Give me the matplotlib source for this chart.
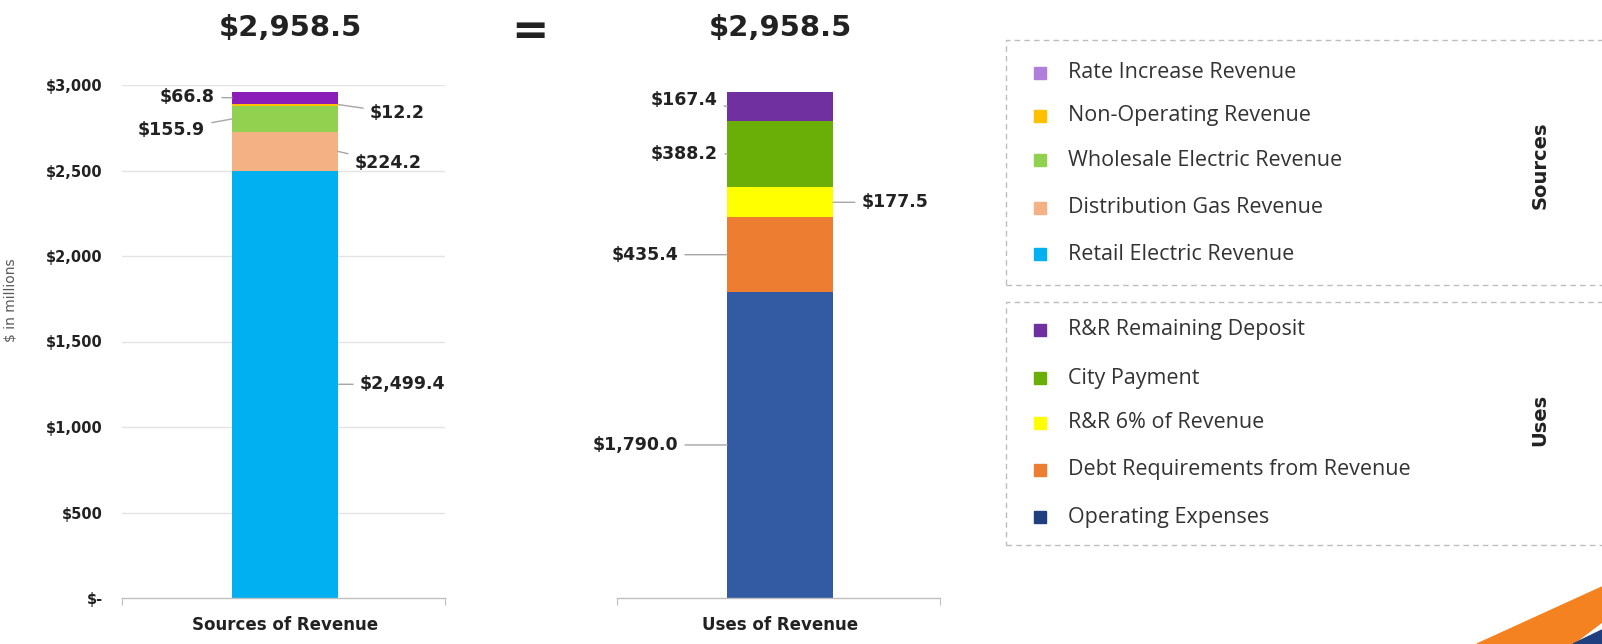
import matplotlib
matplotlib.use('Agg')
import matplotlib.pyplot as plt
from matplotlib.patches import Rectangle, Polygon

# data ($ millions)
src_names = ['Retail Electric Revenue', 'Distribution Gas Revenue', 'Wholesale Electric Revenue',
             'Non-Operating Revenue', 'Rate Increase Revenue']
src_vals = [2499.4, 224.2, 155.9, 12.2, 66.8]
src_colors = ['#00B0F0', '#F4B183', '#92D050', '#FFC000', '#8B1DB8']
src_legend_colors = ['#00B0F0', '#F4B183', '#92D050', '#FFC000', '#B07FDB']

use_names = ['Operating Expenses', 'Debt Requirements from Revenue', 'R&R 6% of Revenue',
             'City Payment', 'R&R Remaining Deposit']
use_vals = [1790.0, 435.4, 177.5, 388.2, 167.4]
use_colors = ['#335BA3', '#ED7D31', '#FFFF00', '#6AAF08', '#7030A0']
use_legend_colors = ['#1F3F7F', '#ED7D31', '#FFFF00', '#6AAF08', '#7030A0']

yticks = [0, 500, 1000, 1500, 2000, 2500, 3000]
ytick_labels = ['$-', '$500', '$1,000', '$1,500', '$2,000', '$2,500', '$3,000']

W, H = 1602, 644
fig = plt.figure(figsize=(W / 100, H / 100), dpi=100)

def fx(px):
    return px / W

def fy(py):
    return 1 - py / H

bar_c, bar_w = 0.505, 0.328

def make_axes(left_px, grid):
    ax = fig.add_axes([fx(left_px), fy(598), 323 / W, 513 / H])
    ax.set_xlim(0, 1)
    ax.set_ylim(0, 3000)
    for sp in ['top', 'right', 'left']:
        ax.spines[sp].set_visible(False)
    ax.spines['bottom'].set_color('#BFBFBF')
    ax.spines['bottom'].set_linewidth(1)
    ax.set_xticks([0, 1])
    ax.set_xticklabels(['', ''])
    ax.tick_params(axis='x', length=5, color='#BFBFBF')
    if grid:
        ax.set_yticks(yticks)
        ax.set_yticklabels(ytick_labels, fontsize=10.5, fontweight='bold', color='#222222')
        ax.tick_params(axis='y', length=0, pad=14)
        for t in yticks[1:]:
            ax.axhline(t, color='#E3E3E3', lw=1, zorder=0)
    else:
        ax.set_yticks([])
    return ax

def stack(ax, vals, colors):
    bottom = 0
    mids = []
    for v, c in zip(vals, colors):
        ax.bar(bar_c, v, bar_w, bottom=bottom, color=c, zorder=2)
        mids.append(bottom + v / 2)
        bottom += v
    return mids

def label(ax, text, y, side, tx, ty):
    # side: 'r' -> label right of the bar, 'l' -> left
    edge = bar_c + bar_w / 2 if side == 'r' else bar_c - bar_w / 2
    ax.annotate(text, xy=(edge, y), xycoords=ax.get_yaxis_transform(),
                xytext=(tx, ty), textcoords=ax.get_yaxis_transform(),
                ha='left' if side == 'r' else 'right', va='center',
                fontsize=12.5, fontweight='bold', color='#222222',
                arrowprops=dict(arrowstyle='-', color='#A6A6A6', lw=1,
                                shrinkA=3, shrinkB=0))

# Sources
ax1 = make_axes(122, True)
m = stack(ax1, src_vals, src_colors)
label(ax1, '$2,499.4', m[0], 'r', 0.737, m[0])
label(ax1, '$224.2', m[1], 'r', 0.721, 2544)
label(ax1, '$155.9', m[2], 'l', 0.257, 2737)
label(ax1, '$12.2', m[3], 'r', 0.768, 2836)
label(ax1, '$66.8', m[4], 'l', 0.288, 2930)
ax1.set_ylabel('$ in millions', fontsize=10, color='#595959')
ax1.yaxis.set_label_coords((18 - 122) / 323, 0.58)
ax1.text(bar_c, -0.035, 'Sources of Revenue', transform=ax1.transAxes, ha='center', va='top',
         fontsize=12, fontweight='bold', color='#222222')

# Uses
ax2 = make_axes(617, False)
m = stack(ax2, use_vals, use_colors)
label(ax2, '$1,790.0', m[0], 'l', 0.189, m[0])
label(ax2, '$435.4', m[1], 'l', 0.189, m[1])
label(ax2, '$177.5', m[2], 'r', 0.758, m[2])
label(ax2, '$388.2', m[3], 'l', 0.313, m[3])
label(ax2, '$167.4', m[4], 'l', 0.31, 2912)
ax2.text(bar_c, -0.035, 'Uses of Revenue', transform=ax2.transAxes, ha='center', va='top',
         fontsize=12, fontweight='bold', color='#222222')

# totals
fig.text(fx(290), fy(28), '${:,.1f}'.format(sum(src_vals)), ha='center', va='center',
         fontsize=21, fontweight='bold', color='#222222')
fig.text(fx(530), fy(31), '=', ha='center', va='center', fontsize=32,
         fontweight='bold', color='#222222')
fig.text(fx(780), fy(28), '${:,.1f}'.format(sum(use_vals)), ha='center', va='center',
         fontsize=21, fontweight='bold', color='#222222')

# legend boxes
def legend_box(y0, y1, names, colors, rows, title, title_y):
    fig.patches.append(Rectangle((fx(1006), fy(y1)), fx(700), (y1 - y0) / H,
                                 transform=fig.transFigure, fill=False,
                                 edgecolor='#BDBDBD', lw=1, ls=(0, (4, 3))))
    for name, c, ry in zip(names, colors, rows):
        fig.patches.append(Rectangle((fx(1034), fy(ry + 6)), fx(12), 12 / H,
                                     transform=fig.transFigure, color=c))
        fig.text(fx(1068), fy(ry), name, ha='left', va='center', fontsize=15.5,
                 family='Open Sans', color='#333333')
    fig.text(fx(1540), fy(title_y), title, rotation=90, ha='center', va='center',
             fontsize=14, fontweight='bold', color='#222222')

legend_box(40, 285, src_names[::-1], src_legend_colors[::-1], [73, 116, 160, 208, 254],
           'Sources', 165)
legend_box(302, 545, use_names[::-1], use_legend_colors[::-1], [330, 378, 423, 470, 517],
           'Uses', 420)

# corner decoration
fig.patches.append(Polygon([(fx(1477), fy(644)), (fx(1602), fy(587)), (fx(1602), fy(622)),
                            (fx(1573), fy(644))], closed=True, transform=fig.transFigure,
                           color='#F58220'))
fig.patches.append(Polygon([(fx(1573), fy(644)), (fx(1602), fy(630)), (fx(1602), fy(644))],
                           closed=True, transform=fig.transFigure, color='#1F3F7F'))

plt.savefig('out.png', dpi=100)
